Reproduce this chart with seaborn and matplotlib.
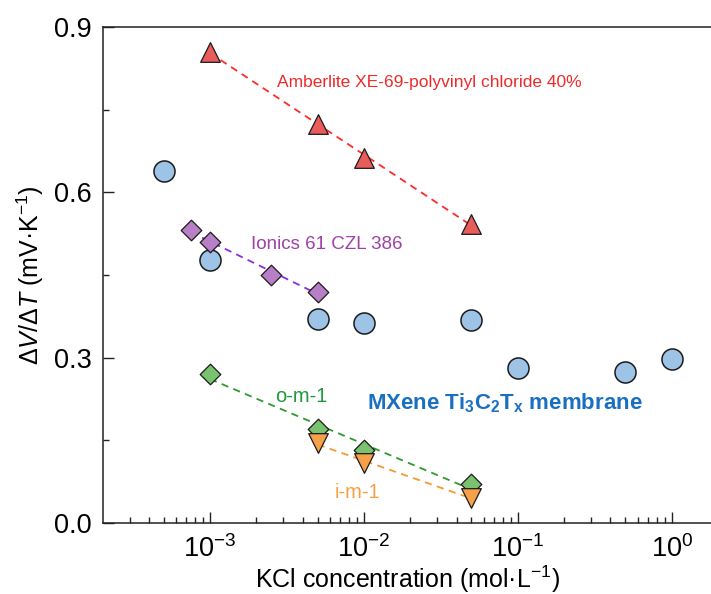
import numpy as np
import pandas as pd
import matplotlib
matplotlib.use('Agg')
import matplotlib.pyplot as plt
import seaborn as sns
from matplotlib.ticker import MultipleLocator, LogLocator, NullFormatter

# data
mx_conc = [5e-4, 1e-3, 5e-3, 1e-2, 5e-2, 1e-1, 5e-1, 1.0]
mx_val = [0.638, 0.477, 0.371, 0.363, 0.368, 0.281, 0.274, 0.298]

amb_conc = [1e-3, 5e-3, 1e-2, 5e-2]
amb_val = [0.855, 0.724, 0.663, 0.543]

ion_conc = [7.5e-4, 1e-3, 2.5e-3, 5e-3]
ion_val = [0.531, 0.510, 0.450, 0.420]

om_conc = [1e-3, 5e-3, 1e-2, 5e-2]
om_val = [0.270, 0.171, 0.133, 0.070]

im_conc = [5e-3, 1e-2, 5e-2]
im_val = [0.146, 0.108, 0.046]

sns.set_style('ticks')
plt.rcParams['font.family'] = ['Liberation Sans', 'DejaVu Sans']
plt.rcParams['mathtext.fontset'] = 'custom'
plt.rcParams['mathtext.rm'] = 'Liberation Sans'
plt.rcParams['mathtext.it'] = 'Liberation Sans:italic'
plt.rcParams['mathtext.bf'] = 'Liberation Sans:bold'
plt.rcParams['text.color'] = 'black'
plt.rcParams['axes.labelcolor'] = 'black'
plt.rcParams['xtick.color'] = 'black'
plt.rcParams['ytick.color'] = 'black'

fig = plt.figure(figsize=(7.11, 5.94), dpi=100)
ax = fig.add_axes([0.145, 0.1195, 0.855, 0.835])
ax.set_xscale('log')


def fit_line(conc, val, color):
    # straight dashed fit line in log-x, drawn between the first and last point
    x = np.log10(conc)
    k, b = np.polyfit(x, val, 1)
    xs = np.array([x.min(), x.max()])
    df = pd.DataFrame({'x': 10 ** xs, 'y': k * xs + b})
    sns.lineplot(data=df, x='x', y='y', ax=ax, color=color, lw=1.3,
                 linestyle=(0, (4, 3)), zorder=2)


fit_line(amb_conc, amb_val, '#ff2a2a')
fit_line(ion_conc, ion_val, '#8a2be2')
fit_line(om_conc, om_val, '#2e9a2e')
fit_line(im_conc, im_val, '#f59a30')

sns.scatterplot(x=mx_conc, y=mx_val, ax=ax, marker='o', s=230,
                color='#9dc3e6', edgecolor='#1a1a1a', linewidth=1.1, zorder=3)
sns.scatterplot(x=amb_conc, y=amb_val, ax=ax, marker='^', s=200,
                color='#e85c5c', edgecolor='#1a1a1a', linewidth=0.9, zorder=3)
sns.scatterplot(x=ion_conc, y=ion_val, ax=ax, marker='D', s=110,
                color='#b97fc6', edgecolor='#1a1a1a', linewidth=0.9, zorder=3)
sns.scatterplot(x=om_conc, y=om_val, ax=ax, marker='D', s=110,
                color='#79c270', edgecolor='#1a1a1a', linewidth=0.9, zorder=3)
sns.scatterplot(x=im_conc, y=im_val, ax=ax, marker='v', s=200,
                color='#f7a04a', edgecolor='#1a1a1a', linewidth=0.9, zorder=4)

ax.text(2.72e-3, 0.80, 'Amberlite XE-69-polyvinyl chloride 40%', color='#ee2a2a',
        fontsize=12.5, ha='left', va='center')
ax.text(1.85e-3, 0.506, 'Ionics 61 CZL 386', color='#a040a8',
        fontsize=13.5, ha='left', va='center')
ax.text(2.64e-3, 0.229, 'o-m-1', color='#1e9a3a', fontsize=14.5, ha='left', va='center')
ax.text(6.5e-3, 0.056, 'i-m-1', color='#f5a040', fontsize=14.5, ha='left', va='center')
ax.text(1.05e-2, 0.218, r'MXene Ti$_\mathbf{3}$C$_\mathbf{2}$T$_\mathbf{x}$ membrane',
        color='#1a6fc0', fontsize=16, fontweight='bold', ha='left', va='center')

ax.set_xlim(2.02e-4, 1.8)
ax.set_ylim(0, 0.9)
ax.yaxis.set_major_locator(MultipleLocator(0.3))
ax.yaxis.set_minor_locator(MultipleLocator(0.15))
ax.yaxis.set_major_formatter(matplotlib.ticker.FormatStrFormatter('%.1f'))
ax.xaxis.set_major_locator(LogLocator(base=10, numticks=10))
ax.xaxis.set_minor_locator(LogLocator(base=10, subs=np.arange(2, 10), numticks=20))
ax.xaxis.set_minor_formatter(NullFormatter())

ax.tick_params(which='both', direction='in', labelsize=19.5, width=1.0,
               color='#222222', labelcolor='black')
ax.tick_params(which='major', length=8)
ax.tick_params(which='minor', length=4)
ax.tick_params(axis='x', pad=9)
ax.tick_params(axis='y', pad=8)

for side in ['left', 'bottom', 'top']:
    ax.spines[side].set_linewidth(1.1)
    ax.spines[side].set_color('#222222')
ax.spines['right'].set_visible(False)

ax.set_xlabel(r'KCl concentration (mol·L$^{-1}$)', fontsize=18, labelpad=0)
ax.set_ylabel(r'$\Delta\mathit{V}/\Delta\mathit{T}$ (mV·K$^{-1}$)', fontsize=18, labelpad=6)

fig.savefig('out.png', dpi=100)
